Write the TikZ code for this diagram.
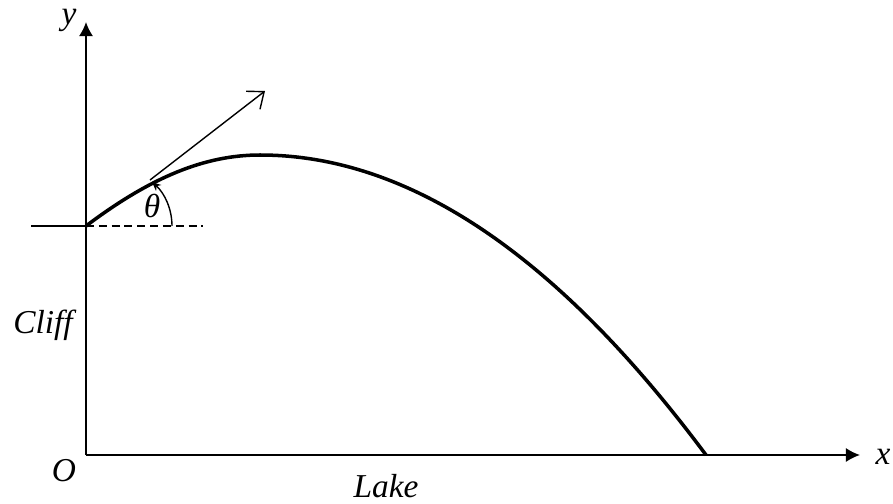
\documentclass[tikz,border=0pt]{standalone}
\usepackage{fontspec}
\setmainfont{Liberation Serif}
\usetikzlibrary{arrows.meta}
\begin{document}
\begin{tikzpicture}[x=0.02cm,y=-0.02cm,
  axis/.style={line width=1pt,-{Latex[length=8pt,width=8pt]}},
  lbl/.style={font=\fontsize{19}{23}\selectfont\itshape, inner sep=0pt},
  traj/.style={line width=2pt},
  vel/.style={line width=0.8pt,-{Straight Barb[length=8pt,width=13pt]}},
  angarc/.style={line width=0.8pt,-{Stealth[length=5pt,width=4.5pt]}},
  dashline/.style={line width=0.9pt,dash pattern=on 4.5pt off 2.8pt}]
\useasboundingbox (0,0) rectangle (893,504);
\coordinate (O) at (86,455);
\coordinate (ytip) at (86,22);
\coordinate (xtip) at (860,455);
\coordinate (L) at (86,226);
\coordinate (hl) at (31,226);
\coordinate (dashend) at (203,226);
\coordinate (T) at (150,180);
\coordinate (V) at (265,91);
\coordinate (P) at (260,155);
\coordinate (land) at (706,455);
\coordinate (arcS) at (172,226);
% axes
\draw[axis] (O) -- (ytip);
\draw[axis] (O) -- (xtip);
% cliff top line
\draw[line width=1pt] (hl) -- (L);
\draw[dashline] (L) -- (dashend);
% trajectory
\draw[traj] (L) .. controls (151,177) and (205,155) .. (P)
  .. controls (408.7,155) and (557.3,255) .. (land);
% velocity arrow
\draw[vel] (T) -- (V);
% angle arc
\draw[angarc] (arcS) arc[start angle=0, end angle=-49, radius=58];
% labels
\node[lbl] (ylab) at (69,20) {y};
\node[lbl] (xlab) at (883,457) {x};
\node[lbl] (olab) at (64,471) {O};
\node[lbl, anchor=base] (lake) at (386,497) {Lake};
\node[lbl] (cliff) at (43,325) {Cliff};
\node[lbl] (theta) at (152,206) {θ};
\end{tikzpicture}
\end{document}
